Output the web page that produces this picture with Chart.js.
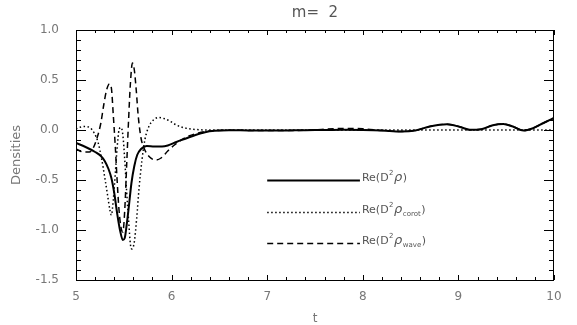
<!DOCTYPE html>
<html>
<head>
<meta charset="utf-8">
<script src="https://cdn.jsdelivr.net/npm/chart.js@4.4.1/dist/chart.umd.min.js"></script>
<style>
  html, body { margin: 0; padding: 0; background: #fff; }
  #wrap { width: 577px; height: 325px; }
</style>
</head>
<body>
<div id="wrap"><canvas id="myChart" width="577" height="325"></canvas></div>
<script>
// Re(D^2 rho) - total
var tTotal = [5.00, 5.10, 5.20, 5.26, 5.30, 5.34, 5.37, 5.40, 5.43, 5.46, 5.49, 5.51, 5.53, 5.55, 5.58, 5.61,
  5.64, 5.68, 5.74, 5.82, 5.90, 5.96, 6.05, 6.15, 6.25, 6.35, 6.45, 6.60, 6.80, 7.00, 7.20, 7.40, 7.60,
  7.80, 8.00, 8.20, 8.40, 8.55, 8.70, 8.88, 9.02, 9.12, 9.24, 9.36, 9.47, 9.57, 9.68, 9.78, 9.89, 10.0];
var reTotal = [-0.13, -0.17, -0.22, -0.26, -0.31, -0.39, -0.48, -0.63, -0.83, -1.00, -1.10, -1.08, -0.95, -0.79, -0.53, -0.36,
  -0.25, -0.19, -0.16, -0.165, -0.165, -0.155, -0.12, -0.085, -0.05, -0.022, -0.008, -0.002, -0.005, -0.006, -0.004, -0.002, 0.0,
  0.002, 0.0, -0.005, -0.015, -0.005, 0.035, 0.058, 0.03, 0.002, 0.008, 0.048, 0.06, 0.035, -0.005, 0.018, 0.07, 0.12];

// Re(D^2 rho_corot)
var tCorot = [5.00, 5.05, 5.10, 5.15, 5.19, 5.23, 5.27, 5.30, 5.33, 5.355, 5.37, 5.39, 5.41, 5.43, 5.45, 5.47,
  5.49, 5.51, 5.53, 5.55, 5.57, 5.585, 5.61, 5.635, 5.66, 5.69, 5.72, 5.76, 5.81, 5.86, 5.92, 5.98,
  6.05, 6.12, 6.20, 6.30, 6.40, 7.00, 8.00, 9.00, 10.0];
var reCorot = [0.01, 0.03, 0.035, 0.02, -0.03, -0.12, -0.30, -0.47, -0.65, -0.80, -0.85, -0.70, -0.45, -0.18, 0.0, 0.025,
  -0.05, -0.30, -0.62, -0.90, -1.15, -1.19, -1.12, -0.88, -0.58, -0.30, -0.10, 0.03, 0.10, 0.125, 0.115, 0.09,
  0.05, 0.025, 0.01, 0.002, 0.0, 0.0, 0.0, 0.0, 0.0];

// Re(D^2 rho_wave)
var tWave = [5.00, 5.08, 5.14, 5.18, 5.22, 5.26, 5.29, 5.32, 5.35, 5.37, 5.39, 5.41, 5.43, 5.45, 5.47, 5.49,
  5.51, 5.53, 5.55, 5.57, 5.59, 5.61, 5.63, 5.65, 5.68, 5.72, 5.77, 5.83, 5.89, 5.96, 6.03, 6.10,
  6.18, 6.28, 6.40, 6.60, 7.00, 7.40, 7.80, 8.00, 8.20, 8.40, 8.55, 8.70, 8.88, 9.02, 9.12, 9.24,
  9.36, 9.47, 9.57, 9.68, 9.78, 9.89, 10.0];
var reWave = [-0.19, -0.22, -0.22, -0.18, -0.08, 0.07, 0.25, 0.40, 0.46, 0.42, 0.15, -0.15, -0.50, -0.80, -0.97, -1.02,
  -0.80, -0.35, 0.10, 0.48, 0.67, 0.60, 0.40, 0.15, -0.08, -0.20, -0.27, -0.30, -0.28, -0.21, -0.15, -0.10,
  -0.06, -0.03, -0.01, -0.002, -0.006, -0.002, 0.015, 0.012, -0.005, -0.015, -0.005, 0.035, 0.058, 0.03, 0.002, 0.008,
  0.048, 0.06, 0.035, -0.005, 0.018, 0.07, 0.12];

var xTicks = [5, 6, 7, 8, 9, 10];
var yTicks = ["-1.5", "-1.0", "-0.5", "0.0", "0.5", "1.0"];
var legendSub = ["", "corot", "wave"];

function pts(t, v) {
  return t.map((x, i) => ({x: x, y: v[i]}));
}

var textColor = "#777";

// inward ticks on all four sides + box, IDL style
const boxTicks = {
  id: "boxTicks",
  afterDatasetsDraw(chart) {
    const {ctx, chartArea: a, scales: {x, y}} = chart;
    ctx.save();
    ctx.strokeStyle = "#000";
    ctx.lineWidth = 1;
    ctx.strokeRect(a.left + 0.5, a.top + 0.5, a.right - a.left - 1, a.bottom - a.top);
    ctx.beginPath();
    const nx = Math.round((x.max - x.min) / 0.2);
    for (let i = 0; i <= nx; i++) {
      const px = Math.round(x.getPixelForValue(x.min + i * 0.2)) + 0.5;
      const len = i % 5 === 0 ? 5 : 3;
      ctx.moveTo(px, a.bottom); ctx.lineTo(px, a.bottom - len);
      ctx.moveTo(px, a.top); ctx.lineTo(px, a.top + len);
    }
    const ny = Math.round((y.max - y.min) / 0.1);
    for (let i = 0; i <= ny; i++) {
      const py = Math.round(y.getPixelForValue(y.min + i * 0.1)) + 0.5;
      const len = i % 5 === 0 ? 10 : 5;
      ctx.moveTo(a.left, py); ctx.lineTo(a.left + len, py);
      ctx.moveTo(a.right, py); ctx.lineTo(a.right - len, py);
    }
    ctx.stroke();

    // title
    ctx.fillStyle = "#555";
    ctx.font = '15px "DejaVu Sans"';
    ctx.textAlign = "center";
    ctx.textBaseline = "middle";
    ctx.fillText("m=  2", (a.left + a.right) / 2, 13);

    // legend
    const rows = [-0.5, -0.82, -1.13];
    const x0 = x.getPixelForValue(7.0), x1 = x.getPixelForValue(7.97);
    chart.data.datasets.forEach((ds, i) => {
      const py = Math.round(y.getPixelForValue(rows[i])) + 0.5;
      ctx.beginPath();
      ctx.lineWidth = ds.borderWidth;
      ctx.setLineDash(ds.borderDash || []);
      ctx.moveTo(x0, py); ctx.lineTo(x1, py);
      ctx.stroke();
      ctx.setLineDash([]);
      let cx = x1 + 2;
      const parts = [["Re(D", '11px "DejaVu Sans"', 0], ["2", '7px "DejaVu Sans"', -6],
        ["\u03c1", 'italic 13px "DejaVu Sans"', 0]];
      if (legendSub[i]) parts.push([legendSub[i], '7px "DejaVu Sans"', 3]);
      parts.push([")", '11px "DejaVu Sans"', 0]);
      ctx.textAlign = "left";
      ctx.textBaseline = "alphabetic";
      ctx.fillStyle = "#555";
      parts.forEach(p => {
        ctx.font = p[1];
        ctx.fillText(p[0], cx, py + p[2]);
        cx += ctx.measureText(p[0]).width + 0.5;
      });
    });
    ctx.restore();
  }
};

new Chart("myChart", {
  type: "line",
  data: {
    datasets: [{
      label: "Re(D\u00b2\u03c1)",
      data: pts(tTotal, reTotal),
      borderColor: "#000",
      borderWidth: 2,
      pointRadius: 0,
      cubicInterpolationMode: "monotone",
      fill: false
    }, {
      label: "Re(D\u00b2\u03c1corot)",
      data: pts(tCorot, reCorot),
      borderColor: "#000",
      borderWidth: 1.5,
      borderDash: [1.5, 2.5],
      pointRadius: 0,
      cubicInterpolationMode: "monotone",
      fill: false
    }, {
      label: "Re(D\u00b2\u03c1wave)",
      data: pts(tWave, reWave),
      borderColor: "#000",
      borderWidth: 1.5,
      borderDash: [6, 4],
      pointRadius: 0,
      cubicInterpolationMode: "monotone",
      fill: false
    }]
  },
  options: {
    responsive: false,
    animation: false,
    devicePixelRatio: 1,
    layout: {padding: {top: 30, right: 23, left: 0, bottom: 0}},
    plugins: {
      legend: {display: false},
      tooltip: {enabled: false}
    },
    scales: {
      x: {
        type: "linear",
        min: 5, max: 10,
        afterFit: s => { s.height = 45; },
        afterBuildTicks: s => { s.ticks = xTicks.map(v => ({value: v})); },
        grid: {display: false, drawTicks: false},
        border: {display: false},
        ticks: {
          color: textColor, padding: 10, maxRotation: 0,
          font: {family: "DejaVu Sans", size: 12},
          callback: v => String(v)
        },
        title: {display: true, text: "t", color: textColor, padding: {top: 0, bottom: -1},
          font: {family: "DejaVu Sans", size: 12}}
      },
      y: {
        min: -1.5, max: 1.0,
        afterFit: s => { s.width = 76; },
        afterBuildTicks: s => { s.ticks = yTicks.map(v => ({value: parseFloat(v)})); },
        grid: {display: false, drawTicks: false},
        border: {display: false},
        ticks: {
          color: textColor, padding: 17,
          font: {family: "DejaVu Sans", size: 12},
          callback: (v, i) => yTicks[i]
        },
        title: {display: true, text: "Densities", color: textColor, padding: {top: 9, bottom: 0},
          font: {family: "DejaVu Sans", size: 13}}
      }
    }
  },
  plugins: [boxTicks]
});
</script>
</body>
</html>
